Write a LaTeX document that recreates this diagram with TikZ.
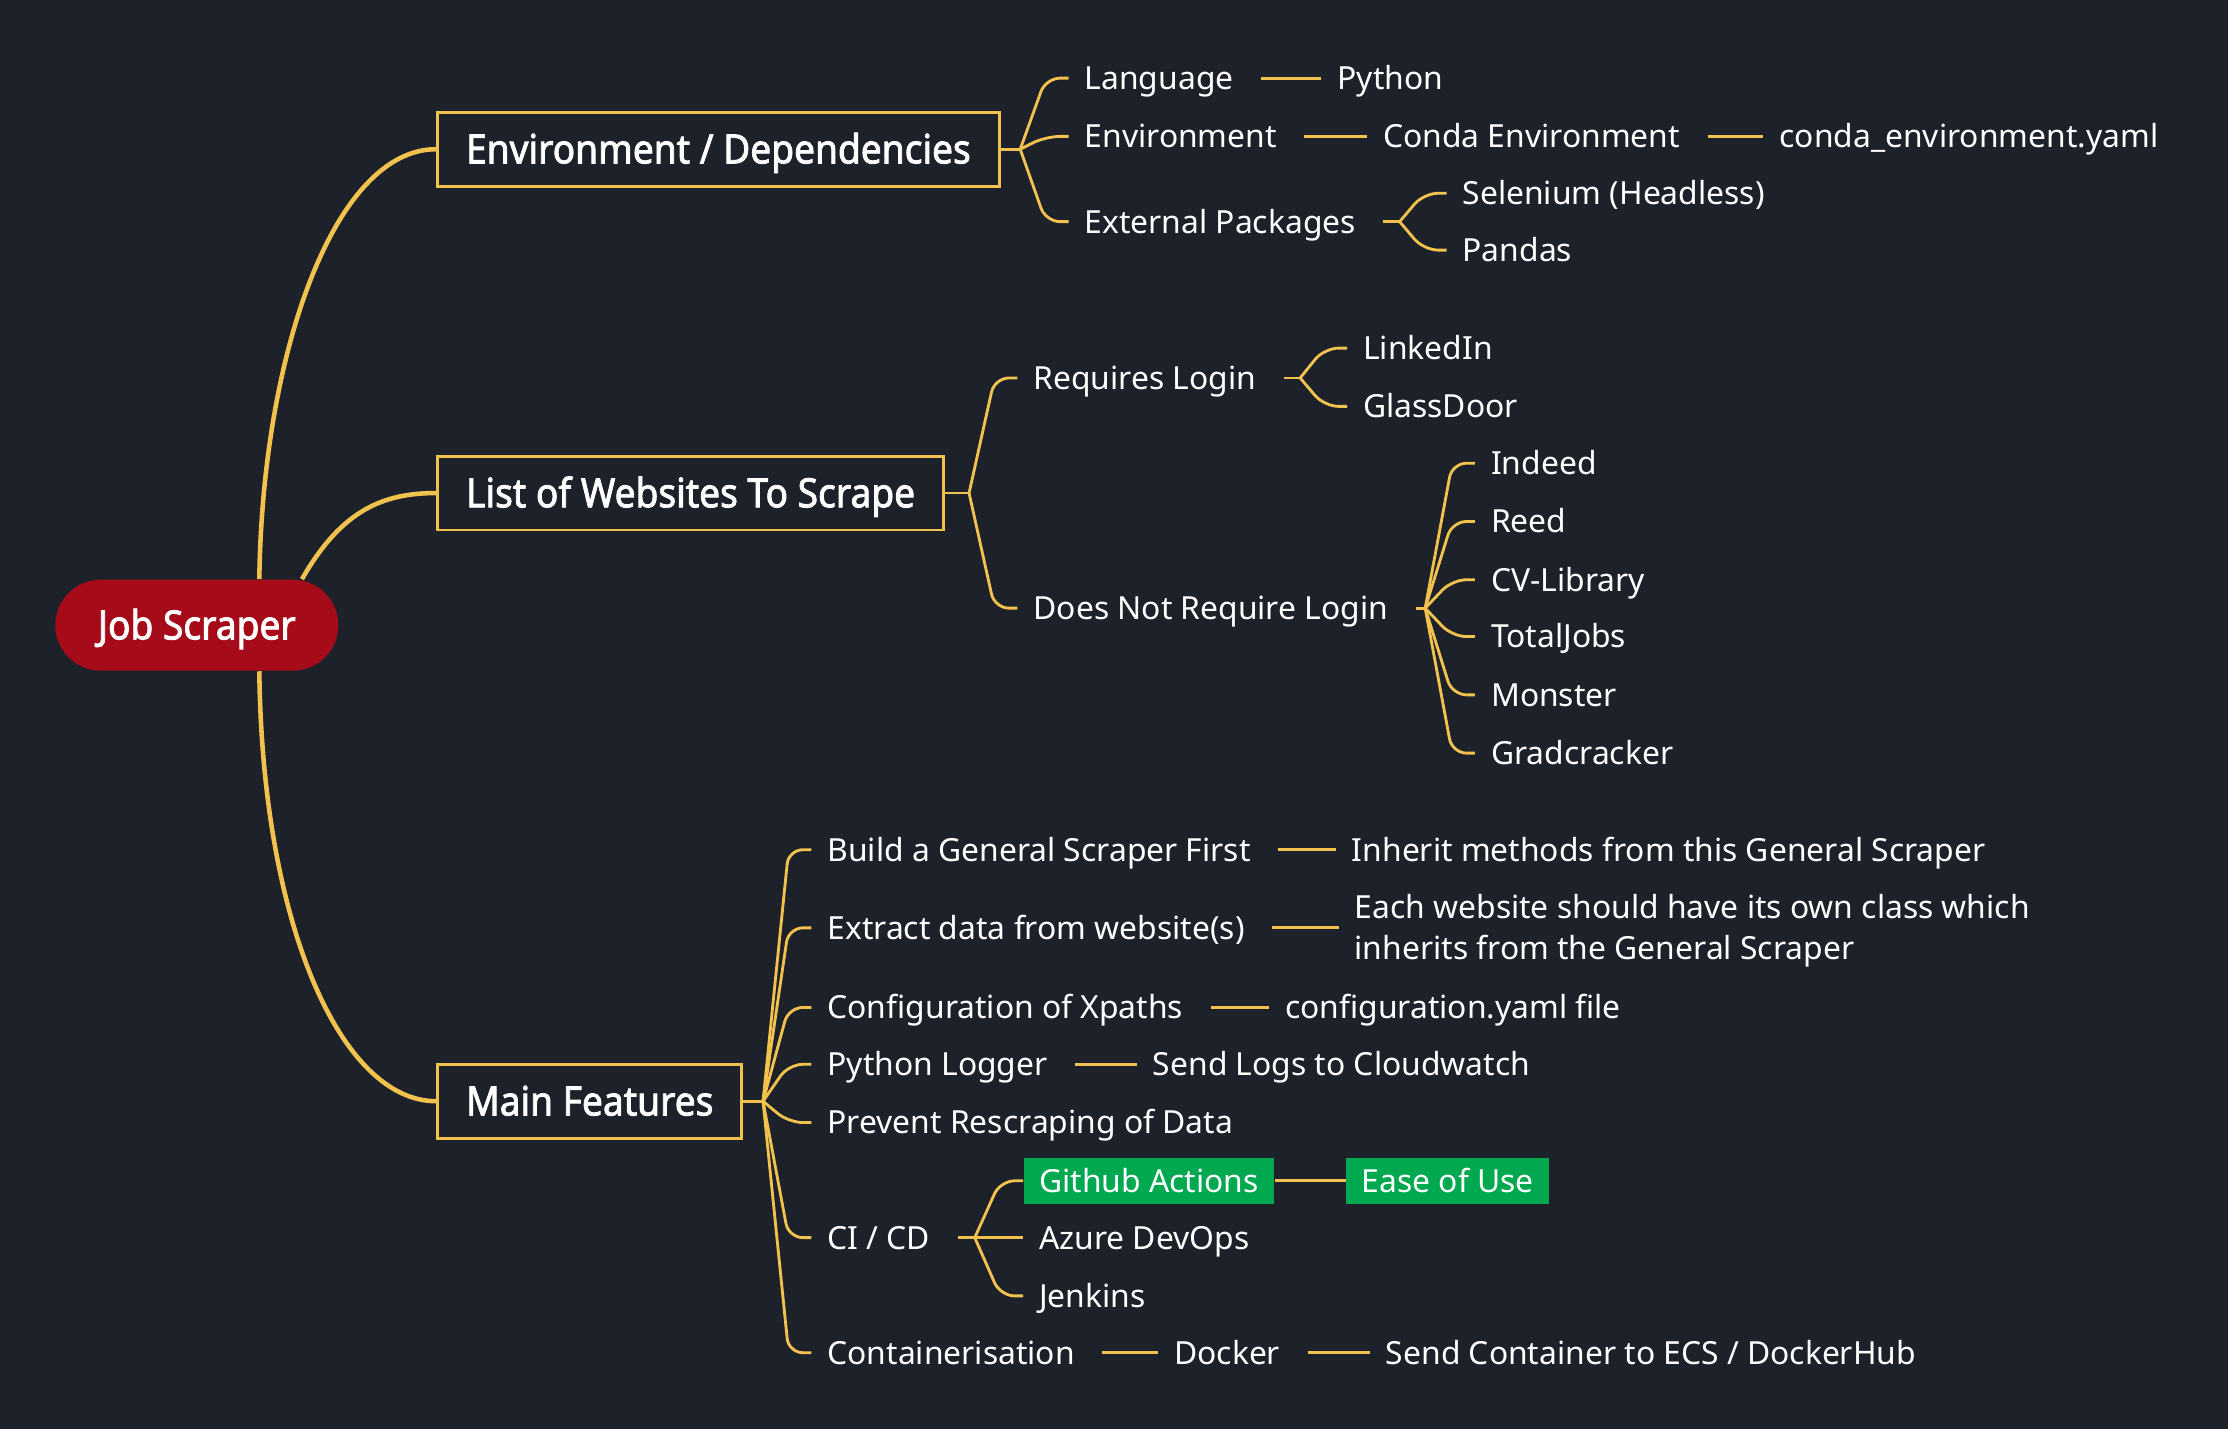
\documentclass[tikz,border=0pt]{standalone}
\usepackage{fontspec}
\setmainfont{Noto Sans}
\IfFontExistsTF{Noto Sans Bold}%
  {\newfontfamily\titlefont{Noto Sans Bold}[FakeStretch=0.92]}%
  {\newfontfamily\titlefont{Noto Sans}[FakeStretch=0.92,FakeBold=2]}
\usetikzlibrary{calc}

\definecolor{bgcol}{HTML}{1D212A}
\definecolor{linecol}{HTML}{F2C24F}
\definecolor{rootred}{HTML}{A50B19}
\definecolor{okgreen}{HTML}{00A84F}

\begin{document}
\begin{tikzpicture}[x=0.5pt,y=-0.5pt,
    root node/.style={fill=rootred,text=white,rounded corners=16pt,
                      font=\titlefont\fontsize{14.2}{16}\selectfont,
                      inner xsep=15pt,minimum height=32pt,
                      text height=10pt,text depth=0pt},
    topic node/.style={draw=linecol,line width=1pt,text=white,anchor=west,
                       font=\titlefont\fontsize{14.2}{16}\selectfont,
                       inner xsep=10pt,minimum height=26pt,
                       text height=10pt,text depth=0pt},
    leaf node/.style={text=white,anchor=west,font=\fontsize{11.2}{14.5}\selectfont,
                      inner xsep=5.5pt,inner ysep=2pt,
                      text height=9.5pt,text depth=1.5pt},
    tag node/.style={leaf node,fill=okgreen,minimum height=16pt},
    trunk/.style={draw=linecol,line width=1.6pt},
    stub/.style={draw=linecol,line width=1pt},
    link/.style={draw=linecol,line width=1pt,shorten <=4pt},
    fork/.style={draw=linecol,line width=1pt,rounded corners=5pt,
                 to path={-- ($(\tikztotarget)+(-16,0)$) -- (\tikztotarget)}}
   ]
   \useasboundingbox (0,0) rectangle (1568,1006);
   \fill[bgcol] (0,0) rectangle (1568,1006);

   % main topics
   \node[root node] (root) at (138.5,440) {Job Scraper};
   \node[topic node] (env) at (307,105) {Environment / Dependencies};
   \node[topic node] (sites) at (307,347) {List of Websites To Scrape};
   \node[topic node] (feat) at (307,775) {Main Features};

   % environment / dependencies
   \node[leaf node] (lang) at (752,55) {Language};
   \node[leaf node] (python) at (930,55) {Python};
   \node[leaf node] (envir) at (752,96) {Environment};
   \node[leaf node] (conda) at (962,96) {Conda Environment};
   \node[leaf node] (condafile) at (1241,96) {conda\_environment.yaml};
   \node[leaf node] (extpkg) at (752,156) {External Packages};
   \node[leaf node] (selenium) at (1018,136) {Selenium (Headless)};
   \node[leaf node] (pandas) at (1018,176) {Pandas};

   % websites
   \node[leaf node] (login) at (716,266) {Requires Login};
   \node[leaf node] (nologin) at (716,428) {Does Not Require Login};
   \node[leaf node] (linkedin) at (948,245) {LinkedIn};
   \node[leaf node] (glassdoor) at (948,286) {GlassDoor};
   \node[leaf node] (indeed) at (1038,326) {Indeed};
   \node[leaf node] (reed) at (1038,367) {Reed};
   \node[leaf node] (cvlib) at (1038,408) {CV-Library};
   \node[leaf node] (totaljobs) at (1038,448) {TotalJobs};
   \node[leaf node] (monster) at (1038,489) {Monster};
   \node[leaf node] (gradcracker) at (1038,530) {Gradcracker};

   % main features
   \node[leaf node] (general) at (571,598) {Build a General Scraper First};
   \node[leaf node] (inherit) at (940,598) {Inherit methods from this General Scraper};
   \node[leaf node] (extract) at (571,653) {Extract data from website(s)};
   \node[leaf node,align=left,text height=,text depth=] (eachsite) at (942,655)
        {Each website should have its own class which\\inherits from the General Scraper};
   \node[leaf node] (xpaths) at (571,709) {Configuration of Xpaths};
   \node[leaf node] (configfile) at (893,709) {configuration.yaml file};
   \node[leaf node] (logger) at (571,749) {Python Logger};
   \node[leaf node] (cloudwatch) at (800,749) {Send Logs to Cloudwatch};
   \node[leaf node] (rescrape) at (571,790) {Prevent Rescraping of Data};
   \node[leaf node] (cicd) at (571,871) {CI / CD};
   \node[tag node] (github) at (720,831) {Github Actions};
   \node[tag node] (ease) at (947,831) {Ease of Use};
   \node[leaf node] (azure) at (720,871) {Azure DevOps};
   \node[leaf node] (jenkins) at (720,912) {Jenkins};
   \node[leaf node] (contain) at (571,952) {Containerisation};
   \node[leaf node] (docker) at (815,952) {Docker};
   \node[leaf node] (ecs) at (964,952) {Send Container to ECS / DockerHub};

   % fork points
   \coordinate (envfork) at (718,105);
   \coordinate (pkgfork) at (985,156);
   \coordinate (sitesfork) at (682,347);
   \coordinate (loginfork) at (915,266);
   \coordinate (nologinfork) at (1003,428);
   \coordinate (featfork) at (537,775);
   \coordinate (cicdfork) at (686,871);

   % trunks from the root
   \draw[trunk] ([xshift=22pt]root.north) .. controls +(2,-158) and +(-72,0) .. (env.west);
   \draw[trunk] ([xshift=37pt]root.north) .. controls +(28,-49) and +(-37,0) .. (sites.west);
   \draw[trunk] ([xshift=22pt]root.south) .. controls +(2,178) and +(-67,0) .. (feat.west);

   % stubs
   \path%
    (env) edge[stub] (envfork)
    (sites) edge[stub] (sitesfork)
    (feat) edge[stub] (featfork)
    (extpkg) edge[link] (pkgfork)
    (login) edge[link] (loginfork)
    (nologin) edge[link] (nologinfork)
    (cicd) edge[link] (cicdfork);

   % forks
   \path%
    (envfork) edge[fork] (lang.west)
    (envfork) edge[fork] (envir.west)
    (envfork) edge[fork] (extpkg.west)
    (pkgfork) edge[fork] (selenium.west)
    (pkgfork) edge[fork] (pandas.west)
    (sitesfork) edge[fork] (login.west)
    (sitesfork) edge[fork] (nologin.west)
    (loginfork) edge[fork] (linkedin.west)
    (loginfork) edge[fork] (glassdoor.west)
    (nologinfork) edge[fork] (indeed.west)
    (nologinfork) edge[fork] (reed.west)
    (nologinfork) edge[fork] (cvlib.west)
    (nologinfork) edge[fork] (totaljobs.west)
    (nologinfork) edge[fork] (monster.west)
    (nologinfork) edge[fork] (gradcracker.west)
    (featfork) edge[fork] (general.west)
    (featfork) edge[fork] (extract.west)
    (featfork) edge[fork] (xpaths.west)
    (featfork) edge[fork] (logger.west)
    (featfork) edge[fork] (rescrape.west)
    (featfork) edge[fork] (cicd.west)
    (featfork) edge[fork] (contain.west)
    (cicdfork) edge[fork] (github.west)
    (cicdfork) edge[fork] (azure.west)
    (cicdfork) edge[fork] (jenkins.west);

   % links
   \path%
    (lang) edge[link] (python)
    (envir) edge[link] (conda)
    (conda) edge[link] (condafile)
    (general) edge[link] (inherit)
    (extract) edge[link] (eachsite.west |- extract)
    (xpaths) edge[link] (configfile)
    (logger) edge[link] (cloudwatch)
    (github) edge[link,shorten <=0pt] (ease)
    (contain) edge[link] (docker)
    (docker) edge[link] (ecs);
\end{tikzpicture}
\end{document}
